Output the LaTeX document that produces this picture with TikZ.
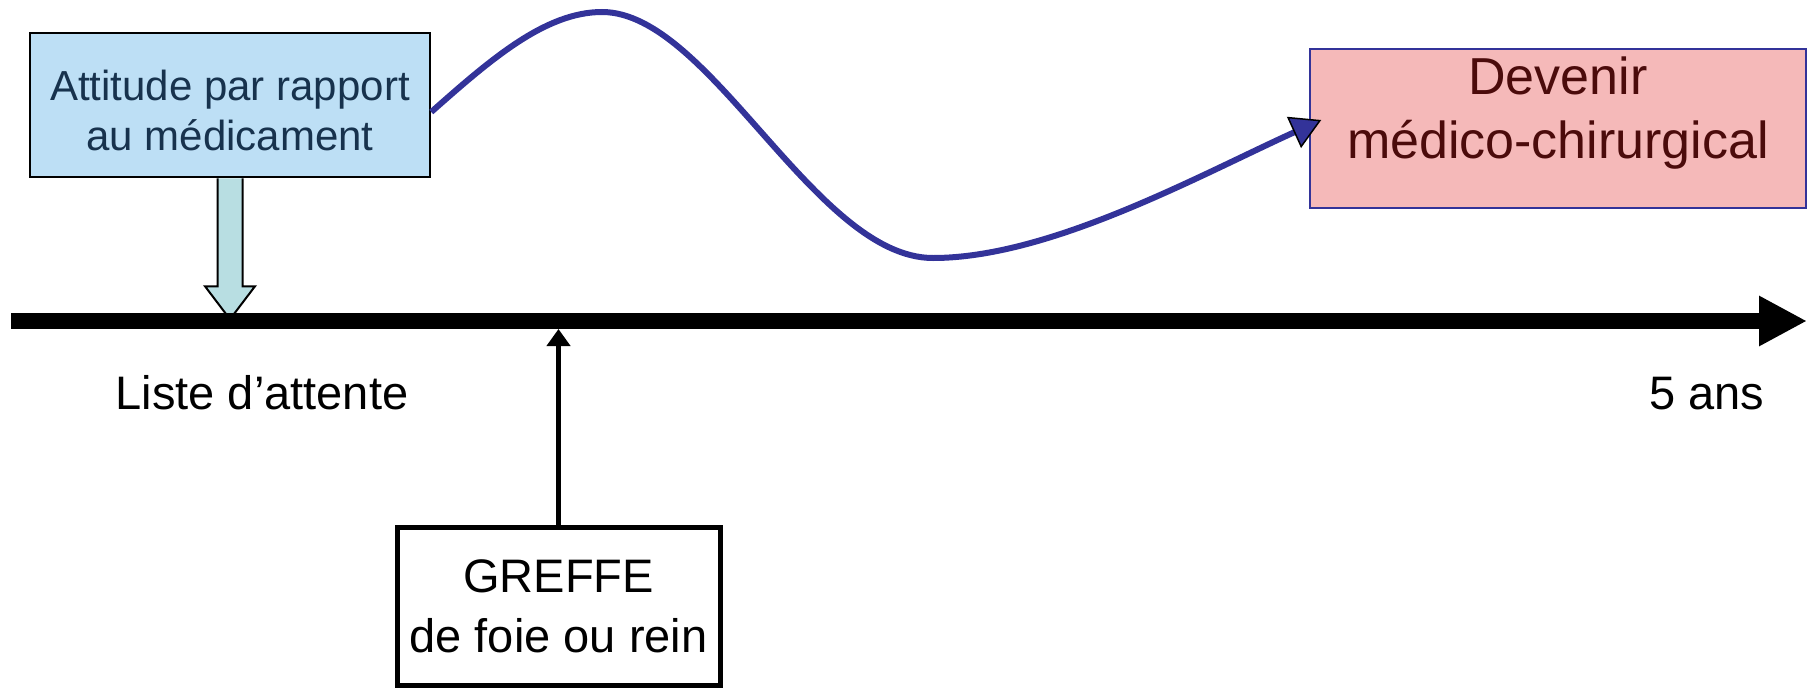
\documentclass[tikz,border=0pt]{standalone}
\usepackage{fontspec}
\setmainfont{Liberation Sans}
\usetikzlibrary{positioning,arrows.meta,calc}
\definecolor{boxblue}{HTML}{BDDFF5}
\definecolor{navytext}{HTML}{17324D}
\definecolor{arrowcyan}{HTML}{B8DEE2}
\definecolor{boxpink}{HTML}{F5B9B9}
\definecolor{darkred}{HTML}{4B0B0B}
\definecolor{curveblue}{HTML}{333399}
\tikzset{
  attbox/.style={draw=black,line width=2.5pt,fill=boxblue,
    inner sep=0pt,minimum width=400pt,minimum height=144pt},
  atttext/.style={text=navytext,align=center,inner sep=0pt,
    font=\fontsize{42}{50}\selectfont},
  outbox/.style={draw=curveblue,line width=1.5pt,fill=boxpink,
    minimum width=496pt,minimum height=159pt,inner sep=0pt},
  outtext/.style={text=darkred,align=center,inner sep=0pt,
    font=\fontsize{52}{64}\selectfont},
  graftbox/.style={draw=black,line width=5pt,fill=white,align=center,
    inner sep=0pt,minimum width=323pt,minimum height=158pt,
    font=\fontsize{47}{60}\selectfont},
  ticklabel/.style={inner sep=0pt,font=\fontsize{47}{56}\selectfont},
}

\begin{document}
\begin{tikzpicture}[
  x=1pt,y=-1pt,
  axis/.style={line width=16pt,-{Triangle[length=48pt,width=47pt]}},
  uparrow/.style={line width=5pt,-{Triangle[length=17pt,width=23pt]}},
  blockarrow/.style={draw=black,line width=2pt,fill=arrowcyan,line join=miter},
  trend/.style={draw=curveblue,line width=6pt,
    -{Triangle[length=30pt,width=34pt,fill=curveblue,color=black,line width=1.5pt]}}
]
\useasboundingbox (0,0) rectangle (1812,688);

\node[attbox] (attitude) at (230,105) {};
\node[atttext] (atttxt) at ([yshift=-5pt]attitude.center) {Attitude par rapport\\au médicament};
\node[outbox] (devenir) at (1558,128.5) {};
\node[outtext] (devtxt) at ([yshift=15pt]devenir.center) {Devenir\\médico-chirurgical};
\node[graftbox] (greffe) at (558.5,606) {GREFFE\\de foie ou rein};

\coordinate (t0) at (11,321);
\coordinate (t5) at (1807,321);
\coordinate (graft) at ([yshift=-8pt]greffe.north |- t0);

% fleche bloc vers la liste d'attente
\draw[blockarrow] ([xshift=-12.5pt]attitude.south) -- ++(0,108) -- ++(-12.5,0)
  -- ++(25,33) -- ++(25,-33) -- ++(-12.5,0) -- ++(0,-108);

\draw[uparrow] (greffe.north) -- (graft);
\draw[axis] (t0) -- (t5);

\node[ticklabel,anchor=base] (attente) at (262,409) {Liste d’attente};
\node[ticklabel,anchor=base] (cinqans) at (1707,409) {5 ans};

% courbe
\draw[trend] ([yshift=-7pt]attitude.east)
  .. controls (490,60) and (545,12) .. (602,12)
  .. controls (710,12) and (815,258) .. (933,258)
  .. controls (1050,258) and (1200,175) .. ([shift={(12pt,8.5pt)}]devenir.west);

\end{tikzpicture}
\end{document}
